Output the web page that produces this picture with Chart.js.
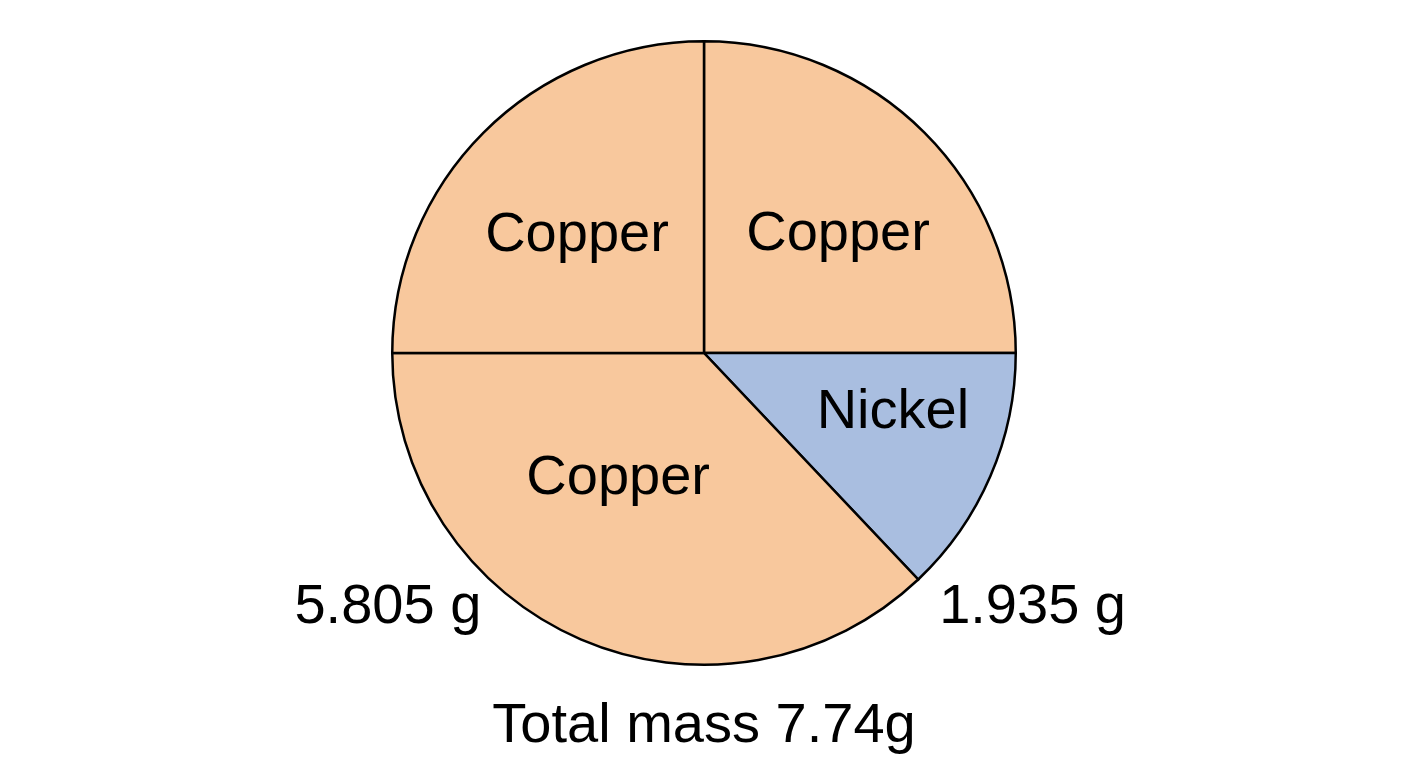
<!DOCTYPE html>
<html>
<head>
<meta charset="utf-8">
<script src="https://cdn.jsdelivr.net/npm/chart.js@4/dist/chart.umd.min.js"></script>
<style>
  html, body { margin: 0; padding: 0; background: #ffffff; }
  #wrap { width: 1408px; height: 768px; }
</style>
</head>
<body>
<div id="wrap"><canvas id="c" width="1408" height="768"></canvas></div>
<script>
// ---- data ----
const sliceLabels = ['Copper', 'Nickel', 'Copper', 'Copper'];      // clockwise from 12 o'clock
const sliceShares = [90, 46.6, 133.4, 90];                          // angular size of each slice (degrees, as drawn)
const sliceMetal  = ['copper', 'nickel', 'copper', 'copper'];
const massLabels  = ['5.805 g', '1.935 g'];                          // copper total, nickel total
const totalLabel  = 'Total mass 7.74g';

// ---- styling ----
const metalColors = { copper: '#F8C89D', nickel: '#A9BEE0' };
const FONT = '"Liberation Sans", Arial, Helvetica, sans-serif';

// label placement inside slices: angle shift (deg) from slice middle, fraction of radius
const insidePlacement = [
  { shift: 3.4,  frac: 0.575 },
  { shift: -6.2, frac: 0.634 },
  { shift: 11.2, frac: 0.486 },
  { shift: -1.9, frac: 0.558 }
];

const labelPlugin = {
  id: 'sliceText',
  afterDatasetsDraw(chart) {
    const ctx = chart.ctx;
    const meta = chart.getDatasetMeta(0);
    ctx.save();
    ctx.fillStyle = '#000000';
    ctx.textAlign = 'center';
    ctx.textBaseline = 'middle';
    let cx = 0, cy = 0, R = 0;
    meta.data.forEach((arc, i) => {
      const p = arc.getProps(['x', 'y', 'startAngle', 'endAngle', 'outerRadius'], true);
      cx = p.x; cy = p.y; R = p.outerRadius;
      const pl = insidePlacement[i];
      const a = (p.startAngle + p.endAngle) / 2 + pl.shift * Math.PI / 180;
      const x = p.x + Math.cos(a) * R * pl.frac;
      const y = p.y + Math.sin(a) * R * pl.frac;
      ctx.font = '56px ' + FONT;
      ctx.fillText(sliceLabels[i], x, y + 1);
    });
    ctx.textBaseline = 'alphabetic';
    ctx.font = '56px ' + FONT;
    ctx.fillText(massLabels[0], cx - R * 1.014, cy + R * 0.866);
    ctx.fillText(massLabels[1], cx + R * 1.054, cy + R * 0.866);
    ctx.fillText(totalLabel, cx, cy + R * 1.249);
    ctx.restore();
  }
};

new Chart(document.getElementById('c'), {
  type: 'pie',
  data: {
    labels: sliceLabels,
    datasets: [{
      data: sliceShares,
      backgroundColor: sliceMetal.map(m => metalColors[m]),
      borderColor: '#000000',
      borderWidth: 2.5,
      borderJoinStyle: 'miter',
      hoverOffset: 0
    }]
  },
  options: {
    responsive: false,
    animation: false,
    devicePixelRatio: 1,
    rotation: 0,
    layout: { padding: { top: 40, bottom: 102, left: 0, right: 0 } },
    plugins: {
      legend: { display: false },
      tooltip: { enabled: false },
      title: { display: false }
    }
  },
  plugins: [labelPlugin]
});
</script>
</body>
</html>
